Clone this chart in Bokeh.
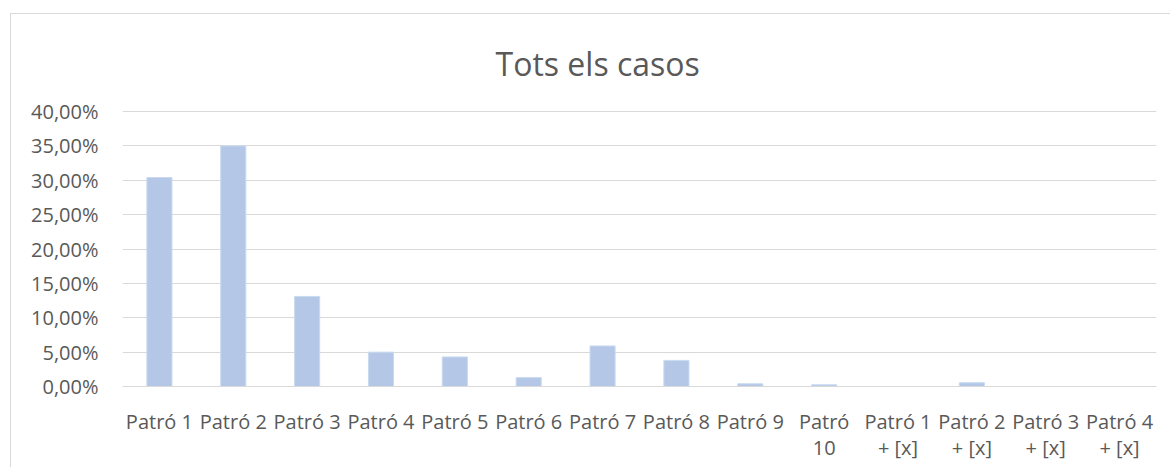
from bokeh.plotting import figure
from bokeh.models import Range1d, FixedTicker, LinearAxis
from bokeh.embed import file_html
from bokeh.resources import INLINE

# ---- data ----
categories = ["Patró 1", "Patró 2", "Patró 3", "Patró 4", "Patró 5", "Patró 6",
              "Patró 7", "Patró 8", "Patró 9", "Patró 10",
              "Patró 1 + [x]", "Patró 2 + [x]", "Patró 3 + [x]", "Patró 4 + [x]"]
category_labels = ["Patró 1", "Patró 2", "Patró 3", "Patró 4", "Patró 5", "Patró 6",
                   "Patró 7", "Patró 8", "Patró 9", "Patró\n10",
                   "Patró 1\n+ [x]", "Patró 2\n+ [x]", "Patró 3\n+ [x]", "Patró 4\n+ [x]"]
values_pct = [30.4, 35.0, 13.1, 5.0, 4.3, 1.3, 5.9, 3.8, 0.4, 0.25, 0.0, 0.55, 0.0, 0.0]
y_ticks = [0, 5, 10, 15, 20, 25, 30, 35, 40]
y_tick_labels = ["0,00%", "5,00%", "10,00%", "15,00%", "20,00%", "25,00%",
                 "30,00%", "35,00%", "40,00%"]
title_text = "Tots els casos"

FONT = "Open Sans"
TXT = "#595959"
GRID = "#d9d9d9"

n = len(categories)
xpos = list(range(n))
line1 = [s.split("\n")[0] for s in category_labels]
line2 = [s.split("\n")[1] if "\n" in s else "" for s in category_labels]

p = figure(x_range=Range1d(-0.5, n - 0.5),
           y_range=Range1d(0, 40.15),
           width=1160, height=454,
           output_backend="svg", toolbar_location=None,
           min_border_left=111, min_border_right=15,
           min_border_top=96, min_border_bottom=82,
           title=title_text)
p.margin = (13, 0, 0, 10)
p.styles = {"border-left": "1px solid #d9d9d9", "border-top": "1px solid #d9d9d9"}
p.outline_line_color = None
p.background_fill_color = "white"
p.border_fill_color = "white"

p.title.text_font = FONT
p.title.text_font_size = "32px"
p.title.text_font_style = "normal"
p.title.text_color = TXT
p.title.align = "left"
p.title.offset = 373
p.title.standoff = 51

p.vbar(x=xpos, top=values_pct, width=0.34,
       fill_color="#b4c7e7", line_color="#c9daf0", line_width=1)

p.xgrid.visible = False
p.ygrid.grid_line_color = GRID
p.ygrid.grid_line_width = 1

p.yaxis.ticker = FixedTicker(ticks=y_ticks)
p.yaxis.major_label_overrides = dict(zip(y_ticks, y_tick_labels))
p.yaxis.axis_line_color = None
p.yaxis.major_tick_line_color = None
p.yaxis.minor_tick_line_color = None
p.yaxis.major_tick_out = 0
p.yaxis.major_label_standoff = 24
p.yaxis.major_label_text_font = FONT
p.yaxis.major_label_text_font_size = "20px"
p.yaxis.major_label_text_color = TXT

ax1 = p.xaxis[0]
ax1.ticker = FixedTicker(ticks=xpos)
ax1.major_label_overrides = dict(zip(xpos, line1))
ax1.axis_line_color = GRID
ax1.major_tick_line_color = None
ax1.minor_tick_line_color = None
ax1.major_tick_out = 0
ax1.major_label_standoff = 21
ax1.major_label_text_font = FONT
ax1.major_label_text_font_size = "20px"
ax1.major_label_text_color = TXT

ax2 = LinearAxis(ticker=FixedTicker(ticks=xpos),
                 major_label_overrides=dict(zip(xpos, [t if t else " " for t in line2])),
                 axis_line_color=None, major_tick_line_color=None,
                 minor_tick_line_color=None, major_tick_out=0,
                 major_label_standoff=-4,
                 major_label_text_font=FONT, major_label_text_font_size="20px",
                 major_label_text_color=TXT)
p.add_layout(ax2, "below")

open("out.html", "w").write(file_html(p, INLINE))
